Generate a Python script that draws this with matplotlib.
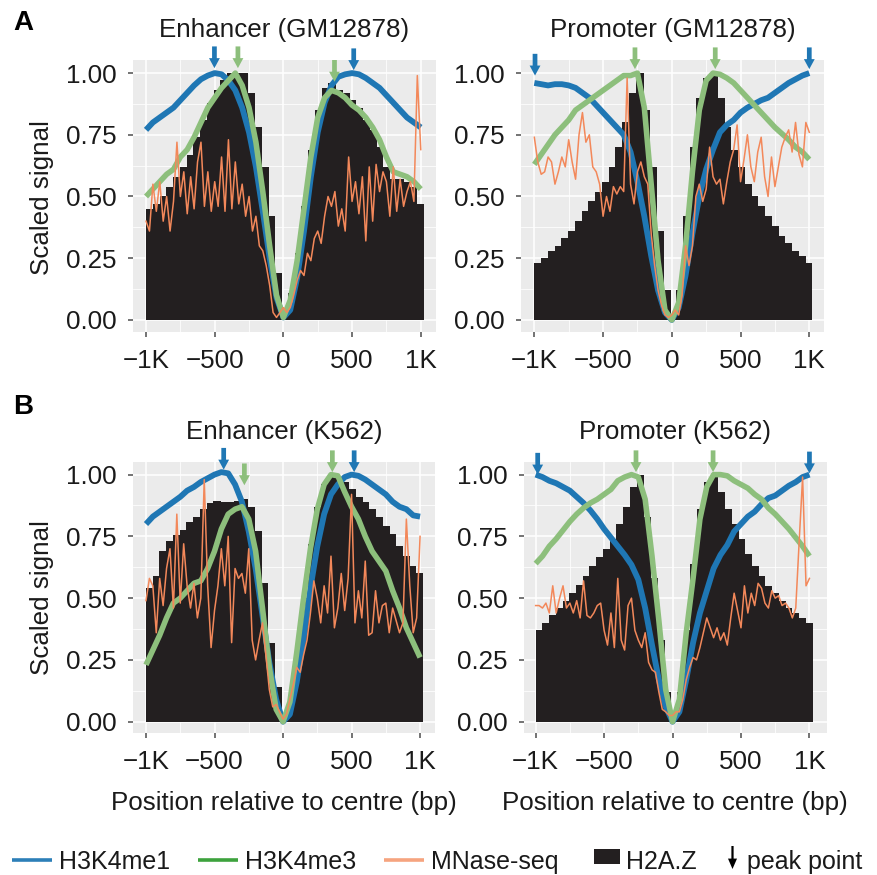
import numpy as np
import matplotlib.pyplot as plt
from matplotlib.patches import FancyArrowPatch, Rectangle
from matplotlib.lines import Line2D

plt.rcParams['font.family'] = ['Liberation Sans', 'DejaVu Sans']

# positions (bp) of the smoothed profiles and of the MNase-seq trace
pos50 = np.arange(-1000, 1001, 50)
pos25 = np.arange(-1000, 1001, 25)

# ---- Enhancer (GM12878) ----
h2az_enh_gm = [0.45, 0.47, 0.50, 0.54, 0.58, 0.62, 0.67, 0.74, 0.81, 0.88,
               0.93, 0.97, 1.00, 1.00, 1.00, 0.92, 0.78, 0.62, 0.42, 0.19,
               0.03,
               0.11, 0.27, 0.46, 0.69, 0.85, 0.94, 0.96, 0.93, 0.92, 0.89,
               0.86, 0.81, 0.77, 0.70, 0.62, 0.57, 0.57, 0.56, 0.54, 0.47]
me1_enh_gm = [0.77, 0.80, 0.82, 0.84, 0.86, 0.89, 0.92, 0.95, 0.975, 0.99,
              1.0, 0.995, 0.97, 0.93, 0.86, 0.76, 0.62, 0.44, 0.25, 0.09,
              0.01,
              0.04, 0.17, 0.36, 0.58, 0.76, 0.88, 0.95, 0.985, 0.995, 1.0,
              0.995, 0.98, 0.96, 0.94, 0.91, 0.88, 0.85, 0.82, 0.80, 0.78]
me3_enh_gm = [0.50, 0.53, 0.56, 0.59, 0.61, 0.66, 0.69, 0.74, 0.80, 0.86,
              0.90, 0.94, 0.97, 1.00, 0.95, 0.86, 0.72, 0.52, 0.30, 0.10,
              0.01,
              0.08, 0.24, 0.45, 0.66, 0.82, 0.90, 0.93, 0.92, 0.90, 0.87,
              0.85, 0.82, 0.78, 0.73, 0.66, 0.60, 0.59, 0.58, 0.56, 0.53]
mnase_enh_gm = [0.40, 0.36, 0.55, 0.44, 0.56, 0.40, 0.50, 0.36, 0.48, 0.72,
                0.50, 0.60, 0.43, 0.58, 0.45, 0.64, 0.72, 0.46, 0.60, 0.44,
                0.56, 0.46, 0.66, 0.44, 0.73, 0.45, 0.64, 0.47, 0.55, 0.42,
                0.50, 0.36, 0.42, 0.30, 0.28, 0.22, 0.14, 0.03, 0.01, 0.03,
                0.05, 0.03, 0.05, 0.10, 0.16, 0.20, 0.18, 0.27, 0.24, 0.33,
                0.36, 0.31, 0.42, 0.50, 0.46, 0.52, 0.38, 0.45, 0.36, 0.66,
                0.48, 0.56, 0.43, 0.58, 0.32, 0.62, 0.40, 0.63, 0.52, 0.60,
                0.56, 0.42, 0.62, 0.44, 0.57, 0.46, 0.52, 0.56, 0.48, 0.99,
                0.69]
peaks_enh_gm = {'me1': ([-502, 512], [1.02, 1.012]),
                'me3': ([-331, 372], [1.02, 0.965])}

# ---- Promoter (GM12878) ----
h2az_pro_gm = [0.23, 0.25, 0.28, 0.30, 0.33, 0.36, 0.40, 0.44, 0.48, 0.52,
               0.56, 0.62, 0.70, 0.80, 0.92, 1.00, 0.85, 0.62, 0.36, 0.12,
               0.01,
               0.12, 0.42, 0.70, 0.90, 0.98, 1.00, 0.90, 0.78, 0.69, 0.62,
               0.55, 0.50, 0.46, 0.42, 0.38, 0.34, 0.31, 0.28, 0.26, 0.23]
me1_pro_gm = [0.96, 0.955, 0.95, 0.955, 0.955, 0.95, 0.94, 0.92, 0.90, 0.87,
              0.84, 0.81, 0.78, 0.75, 0.68, 0.56, 0.42, 0.26, 0.12, 0.03,
              0.0,
              0.05, 0.18, 0.35, 0.50, 0.61, 0.69, 0.76, 0.79, 0.81, 0.84,
              0.86, 0.875, 0.89, 0.90, 0.92, 0.94, 0.96, 0.975, 0.99, 1.0]
me3_pro_gm = [0.63, 0.67, 0.71, 0.75, 0.78, 0.81, 0.85, 0.87, 0.89, 0.91,
              0.93, 0.95, 0.97, 0.99, 0.99, 1.0, 0.86, 0.55, 0.24, 0.04,
              0.0,
              0.07, 0.30, 0.60, 0.85, 0.97, 1.0, 0.995, 0.98, 0.96, 0.93,
              0.90, 0.87, 0.84, 0.81, 0.78, 0.755, 0.73, 0.70, 0.68, 0.65]
mnase_pro_gm = [0.74, 0.64, 0.59, 0.60, 0.66, 0.64, 0.55, 0.60, 0.66, 0.62,
                0.73, 0.64, 0.57, 0.75, 0.84, 0.72, 0.75, 0.62, 0.60, 0.55,
                0.42, 0.50, 0.44, 0.54, 0.51, 0.54, 0.52, 0.98, 0.55, 0.47,
                0.60, 0.64, 0.58, 0.55, 0.35, 0.22, 0.12, 0.06, 0.02, 0.01,
                0.02, 0.04, 0.02, 0.10, 0.30, 0.22, 0.30, 0.50, 0.55, 0.48,
                0.53, 0.70, 0.58, 0.55, 0.57, 0.47, 0.56, 0.64, 0.69, 0.79,
                0.56, 0.65, 0.75, 0.62, 0.56, 0.68, 0.74, 0.58, 0.50, 0.66,
                0.54, 0.62, 0.70, 0.74, 0.77, 0.68, 0.80, 0.67, 0.62, 0.80,
                0.76]
peaks_pro_gm = {'me1': ([-995, 1000], [0.99, 1.016]),
                'me3': ([-268, 316], [1.016, 1.016])}

# ---- Enhancer (K562) ----
h2az_enh_k = [0.54, 0.59, 0.69, 0.73, 0.755, 0.775, 0.81, 0.83, 0.86, 0.885,
              0.895, 0.89, 0.89, 0.895, 0.90, 0.87, 0.77, 0.56, 0.32, 0.14,
              0.02,
              0.08, 0.26, 0.50, 0.72, 0.87, 0.96, 0.99, 0.99, 0.97, 0.94,
              0.91, 0.89, 0.86, 0.83, 0.79, 0.76, 0.71, 0.67, 0.63, 0.60]
me1_enh_k = [0.80, 0.83, 0.85, 0.87, 0.89, 0.91, 0.935, 0.95, 0.97, 0.985,
             1.0, 1.01, 1.005, 0.96, 0.89, 0.77, 0.62, 0.43, 0.24, 0.09,
             0.0,
             0.03, 0.16, 0.34, 0.54, 0.71, 0.84, 0.92, 0.96, 0.99, 1.0,
             0.995, 0.98, 0.96, 0.94, 0.92, 0.89, 0.87, 0.86, 0.835, 0.83]
me3_enh_k = [0.23, 0.29, 0.35, 0.42, 0.48, 0.50, 0.53, 0.56, 0.57, 0.62,
             0.69, 0.78, 0.84, 0.86, 0.87, 0.82, 0.69, 0.46, 0.22, 0.05,
             0.0,
             0.08, 0.28, 0.50, 0.70, 0.86, 0.96, 1.0, 0.995, 0.93, 0.87,
             0.82, 0.75, 0.69, 0.65, 0.61, 0.53, 0.46, 0.38, 0.32, 0.26]
mnase_enh_k = [0.49, 0.58, 0.55, 0.36, 0.58, 0.47, 0.62, 0.70, 0.46, 0.84,
               0.48, 0.72, 0.55, 0.46, 0.56, 0.42, 0.50, 0.98, 0.55, 0.30,
               0.45, 0.55, 0.70, 0.55, 0.75, 0.32, 0.62, 0.58, 0.60, 0.52,
               0.70, 0.33, 0.25, 0.33, 0.40, 0.27, 0.13, 0.06, 0.07, 0.04,
               0.01, 0.03, 0.09, 0.15, 0.22, 0.20, 0.27, 0.33, 0.44, 0.57,
               0.50, 0.40, 0.55, 0.44, 0.67, 0.38, 0.46, 0.60, 0.45, 0.58,
               0.92, 0.40, 0.53, 0.42, 0.65, 0.35, 0.36, 0.53, 0.40, 0.47,
               0.48, 0.36, 0.46, 0.41, 0.36, 0.40, 0.82, 0.55, 0.36, 0.42,
               0.75]
peaks_enh_k = {'me1': ([-433, 519], [1.02, 1.01]),
               'me3': ([-282, 360], [0.957, 1.01])}

# ---- Promoter (K562) ----
h2az_pro_k = [0.37, 0.40, 0.43, 0.46, 0.49, 0.52, 0.555, 0.59, 0.63, 0.665,
              0.70, 0.74, 0.80, 0.87, 0.95, 1.0, 0.83, 0.58, 0.33, 0.12,
              0.01,
              0.12, 0.37, 0.64, 0.86, 0.97, 1.0, 0.93, 0.86, 0.80, 0.74,
              0.68, 0.63, 0.59, 0.55, 0.52, 0.49, 0.46, 0.44, 0.42, 0.40]
me1_pro_k = [1.0, 0.99, 0.975, 0.965, 0.95, 0.935, 0.91, 0.885, 0.855, 0.82,
             0.78, 0.745, 0.71, 0.675, 0.635, 0.575, 0.46, 0.31, 0.17, 0.06,
             0.0,
             0.04, 0.17, 0.32, 0.44, 0.53, 0.62, 0.675, 0.715, 0.77, 0.80,
             0.83, 0.85, 0.88, 0.905, 0.915, 0.935, 0.955, 0.97, 0.99, 1.0]
me3_pro_k = [0.64, 0.67, 0.71, 0.74, 0.775, 0.81, 0.84, 0.865, 0.885, 0.90,
             0.92, 0.94, 0.975, 0.99, 1.0, 0.99, 0.90, 0.67, 0.41, 0.13,
             0.0,
             0.09, 0.36, 0.58, 0.82, 0.95, 1.0, 1.0, 0.995, 0.975, 0.96,
             0.945, 0.92, 0.90, 0.865, 0.84, 0.81, 0.78, 0.745, 0.71, 0.67]
mnase_pro_k = [0.47, 0.47, 0.46, 0.48, 0.44, 0.55, 0.44, 0.50, 0.55, 0.46,
               0.48, 0.44, 0.49, 0.42, 0.57, 0.43, 0.42, 0.44, 0.47, 0.48,
               0.37, 0.31, 0.44, 0.30, 0.58, 0.33, 0.29, 0.47, 0.50, 0.37,
               0.33, 0.30, 0.36, 0.24, 0.21, 0.20, 0.12, 0.05, 0.04, 0.025,
               0.025, 0.04, 0.04, 0.09, 0.17, 0.22, 0.26, 0.25, 0.30, 0.36,
               0.42, 0.38, 0.34, 0.38, 0.33, 0.36, 0.31, 0.42, 0.52, 0.45,
               0.38, 0.55, 0.44, 0.52, 0.47, 0.56, 0.54, 0.48, 0.46, 0.53,
               0.50, 0.51, 0.47, 0.48, 0.46, 0.42, 0.46, 0.73, 0.99, 0.55,
               0.58]
peaks_pro_k = {'me1': ([-985, 1000], [1.0, 1.005]),
               'me3': ([-267, 296], [1.01, 1.01])}

xtick_vals = [-1000, -500, 0, 500, 1000]
xtick_labels = ['\u22121K', '\u2212500', '0', '500', '1K']
ytick_vals = [0, 0.25, 0.5, 0.75, 1.0]
ytick_labels = ['0.00', '0.25', '0.50', '0.75', '1.00']

BLUE = '#1f77b4'
GREEN = '#8dbf7c'
ORANGE = '#f3885a'
BLACK = '#231f20'
TXT = '#1a1a1a'
FS = 18.7

W, H = 878, 875
fig = plt.figure(figsize=(W / 100, H / 100), dpi=100)


def px_axes(left, top, right, bottom):
    return fig.add_axes([left / W, 1 - bottom / H, (right - left) / W, (bottom - top) / H])


def panel(rect, xlim, ylim, title, h2az, me1, me3, mnase, peaks, xlabel=False):
    ax = px_axes(*rect)
    ax.set_facecolor('#ebebeb')
    for s in ax.spines.values():
        s.set_visible(False)
    ax.set_xticks(xtick_vals)
    ax.set_xticklabels(xtick_labels)
    ax.set_xticks([-750, -250, 250, 750], minor=True)
    ax.set_yticks(ytick_vals)
    ax.set_yticklabels(ytick_labels)
    ax.set_yticks([0.125, 0.375, 0.625, 0.875], minor=True)
    ax.grid(which='major', color='white', lw=1.1)
    ax.grid(which='minor', color='white', lw=0.55)
    ax.set_axisbelow(True)
    ax.tick_params(which='major', length=3.6, width=1.1, color='#4d4d4d',
                   labelsize=FS, labelcolor=TXT)
    ax.tick_params(axis='y', pad=8.3)
    ax.tick_params(axis='x', pad=9)
    ax.tick_params(which='minor', length=0)

    # H2A.Z bars, touching each other (slight overlap hides seams)
    edges = np.linspace(-1000, 1015, len(h2az) + 1)
    ax.bar(edges[:-1], h2az, width=np.diff(edges) + 8, align='edge',
           color=BLACK, lw=0, zorder=2)
    ax.plot(pos50, me1, color=BLUE, lw=4.2, solid_capstyle='butt', zorder=3)
    ax.plot(pos50, me3, color=GREEN, lw=4.0, solid_capstyle='butt', zorder=4)
    ax.plot(pos25, mnase, color=ORANGE, lw=1.1, zorder=5)

    for key, col in (('me1', BLUE), ('me3', GREEN)):
        for x, tip in zip(*peaks[key]):
            ax.annotate('', xy=(x, tip), xytext=(x, tip + 0.088),
                        annotation_clip=False,
                        arrowprops=dict(arrowstyle='simple,head_length=0.72,head_width=0.78,tail_width=0.34',
                                        mutation_scale=10, color=col, lw=0,
                                        shrinkA=0, shrinkB=0, clip_on=False),
                        zorder=6)

    ax.set_xlim(*xlim)
    ax.set_ylim(*ylim)
    ax.text(0.5, 1 + 30 / (rect[3] - rect[1]), title, transform=ax.transAxes,
            ha='center', va='center', fontsize=FS, color=TXT)
    if xlabel:
        fig.text((rect[0] + rect[2]) / 2 / W, 1 - 803 / H,
                 'Position relative to centre (bp)', ha='center', va='center',
                 fontsize=FS, color=TXT)
    return ax


panel((132.7, 60, 436, 332), (-1097, 1111), (-0.049, 1.053), 'Enhancer (GM12878)',
      h2az_enh_gm, me1_enh_gm, me3_enh_gm, mnase_enh_gm, peaks_enh_gm)
panel((521, 60, 824, 332), (-1097, 1107), (-0.049, 1.053), 'Promoter (GM12878)',
      h2az_pro_gm, me1_pro_gm, me3_pro_gm, mnase_pro_gm, peaks_pro_gm)
panel((132.7, 462, 435, 732.7), (-1097, 1109), (-0.0445, 1.051), 'Enhancer (K562)',
      h2az_enh_k, me1_enh_k, me3_enh_k, mnase_enh_k, peaks_enh_k, xlabel=True)
panel((524, 462, 826.7, 732.7), (-1085, 1126), (-0.0445, 1.051), 'Promoter (K562)',
      h2az_pro_k, me1_pro_k, me3_pro_k, mnase_pro_k, peaks_pro_k, xlabel=True)

for yc in (198, 598):
    fig.text(42 / W, 1 - yc / H, 'Scaled signal', rotation=90, ha='center',
             va='center', fontsize=FS, color=TXT)

fig.text(13 / W, 1 - 23 / H, 'A', weight='bold', fontsize=20, ha='left', va='center')
fig.text(13 / W, 1 - 407 / H, 'B', weight='bold', fontsize=20, ha='left', va='center')

# legend along the bottom
ly = 1 - 860 / H
lb = 1 - 869 / H
legend_lines = [(12, 52, '#2c7fb8', 'H3K4me1', 59),
                (198, 238, '#3da23d', 'H3K4me3', 245),
                (384, 424, '#f6a47f', 'MNase-seq', 431)]
for x0, x1, col, lab, tx in legend_lines:
    fig.add_artist(Line2D([x0 / W, x1 / W], [ly, ly], color=col, lw=2.6,
                          transform=fig.transFigure, solid_capstyle='butt'))
    fig.text(tx / W, lb, lab, ha='left', va='baseline', fontsize=18, color=TXT)
fig.add_artist(Rectangle((594 / W, 1 - 864 / H), 26 / W, 15 / H, color=BLACK,
                         transform=fig.transFigure, lw=0))
fig.text(626 / W, lb, 'H2A.Z', ha='left', va='baseline', fontsize=18, color=TXT)
fig.add_artist(FancyArrowPatch((732.5 / W, 1 - 846 / H), (732.5 / W, 1 - 869 / H),
                               transform=fig.transFigure, mutation_scale=10,
                               arrowstyle='simple,head_length=0.75,head_width=0.65,tail_width=0.16',
                               color='black', lw=0, shrinkA=0, shrinkB=0))
fig.text(747 / W, lb, 'peak point', ha='left', va='baseline', fontsize=18, color=TXT)

fig.savefig('out.png', dpi=100)
